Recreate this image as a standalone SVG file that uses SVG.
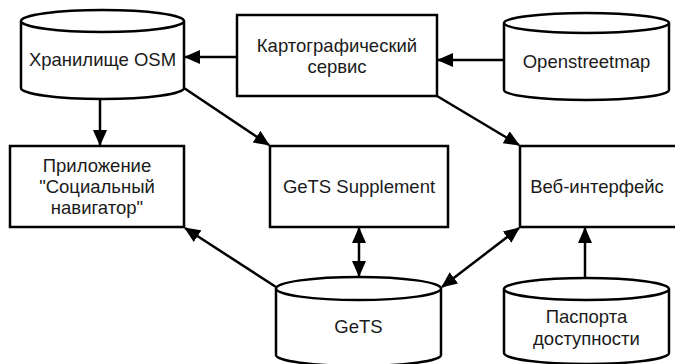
<svg xmlns="http://www.w3.org/2000/svg" width="675" height="364" viewBox="0 0 675 364">
<style>
.s{fill:#fff;stroke:#000;stroke-width:2.5}
.t{font-family:"Liberation Sans",Arial,sans-serif;font-size:18.5px;fill:#1a1a1a;text-anchor:middle}
.c{fill:none;stroke:#000;stroke-width:2.5}
</style>
<defs>
<marker id="ae" markerUnits="userSpaceOnUse" markerWidth="16" markerHeight="14" viewBox="0 0 16 14" refX="15" refY="7" orient="auto">
<path d="M0,0 L16,7 L0,14 Z" fill="#000"/>
</marker>
<marker id="as" markerUnits="userSpaceOnUse" markerWidth="16" markerHeight="14" viewBox="0 0 16 14" refX="1" refY="7" orient="auto">
<path d="M16,0 L0,7 L16,14 Z" fill="#000"/>
</marker>
</defs>
<g id="connectors">
<line class="c" x1="237" y1="57" x2="185" y2="57" marker-end="url(#ae)"/>
<line class="c" x1="504" y1="60" x2="438" y2="60" marker-end="url(#ae)"/>
<line class="c" x1="100" y1="99" x2="100" y2="145" marker-end="url(#ae)"/>
<line class="c" x1="184" y1="88" x2="269" y2="145" marker-end="url(#ae)"/>
<line class="c" x1="437" y1="96" x2="519" y2="145" marker-end="url(#ae)"/>
<line class="c" x1="276" y1="287" x2="185" y2="228" marker-end="url(#ae)"/>
<line class="c" x1="359" y1="276" x2="359" y2="228" marker-start="url(#as)" marker-end="url(#ae)"/>
<line class="c" x1="442" y1="287" x2="519" y2="228" marker-start="url(#as)" marker-end="url(#ae)"/>
<line class="c" x1="585" y1="278" x2="585" y2="228" marker-end="url(#ae)"/>
</g>
<g id="node-osm-storage">
<path class="s" d="M21,21 L21,88 A81.5,11 0 0 0 184,88 L184,21"/>
<ellipse class="s" cx="102.5" cy="21" rx="81.5" ry="11"/>
<text class="t" x="102.5" y="66">Хранилище OSM</text>
</g>
<g id="node-map-service">
<rect class="s" x="237" y="15" width="200" height="81"/>
<text class="t" x="337" y="52">Картографический</text>
<text class="t" x="337" y="73">сервис</text>
</g>
<g id="node-openstreetmap">
<path class="s" d="M504,23 L504,90 A82.5,10 0 0 0 669,90 L669,23"/>
<ellipse class="s" cx="586.5" cy="23" rx="82.5" ry="10"/>
<text class="t" x="586.5" y="68">Openstreetmap</text>
</g>
<g id="node-app">
<rect class="s" x="10" y="146" width="174" height="81"/>
<text class="t" x="97" y="172">Приложение</text>
<text class="t" x="97" y="193">"Социальный</text>
<text class="t" x="97" y="214">навигатор"</text>
</g>
<g id="node-gets-supplement">
<rect class="s" x="270" y="146" width="178" height="81"/>
<text class="t" x="359" y="193">GeTS Supplement</text>
</g>
<g id="node-web">
<rect class="s" x="520" y="146" width="165" height="81"/>
<text class="t" x="597" y="193">Веб-интерфейс</text>
</g>
<g id="node-gets">
<path class="s" d="M276,288.5 L276,355 A82.5,11 0 0 0 441,355 L441,288.5"/>
<ellipse class="s" cx="358.5" cy="288.5" rx="82.5" ry="11.5"/>
<text class="t" x="358.5" y="333">GeTS</text>
</g>
<g id="node-passports">
<path class="s" d="M504,289 L504,353 A82.5,11 0 0 0 669,353 L669,289"/>
<ellipse class="s" cx="586.5" cy="289" rx="82.5" ry="11"/>
<text class="t" x="586.5" y="323">Паспорта</text>
<text class="t" x="586.5" y="345">доступности</text>
</g>
</svg>
